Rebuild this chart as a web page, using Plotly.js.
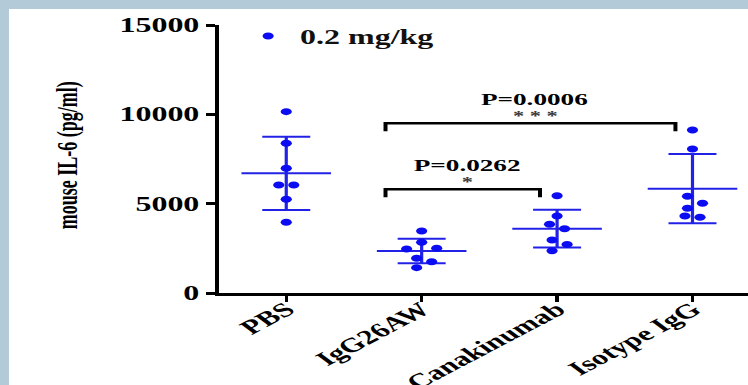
<!DOCTYPE html>
<html>
<head>
<meta charset="utf-8">
<script src="https://cdn.plot.ly/plotly-3.0.1.min.js"></script>
<style>
  html, body { margin: 0; padding: 0; background: #b3cad9; width: 748px; height: 385px; overflow: hidden; }
  #wrap { position: absolute; left: 9px; top: 9px; width: 739px; height: 376px; background: #fff; overflow: hidden; }
  #plot { width: 462px; height: 376px; transform: scaleX(1.5996); transform-origin: 0 0; }
</style>
</head>
<body>
<div id="wrap"><div id="plot"></div></div>
<script>
// ---- data ----
const categories = ['PBS', 'IgG26AW', 'Canakinumab', 'Isotype IgG'];
const pbsValues = [10150, 8380, 6980, 6050, 6050, 5250, 3960];
const igg26awValues = [3470, 2840, 2500, 2460, 1940, 1750, 1420];
const canakinumabValues = [5440, 4310, 3850, 3600, 2970, 2720, 2370];
const isotypeValues = [9120, 8060, 5410, 5020, 4740, 4310, 4240];
const groupMeans = [6700, 2350, 3600, 5840];
const groupSD = [2050, 680, 1055, 1940];
const yTickValues = [0, 5000, 10000, 15000];
const yTickLabels = ['0', '5000', '10000', '15000'];
const seriesName = '0.2 mg/kg';
const yTitle = 'mouse IL-6 (pg/ml)';
const compareFrom = [1, 1];
const compareTo = [2, 3];
const compareP = ['P=0.0262', 'P=0.0006'];
const compareStars = ['*', '* * *'];
const compareLevel = [5800, 9500];

// ---- layout constants ----
const W = 462, H = 376;
const M = { l: 131, r: 0, t: 16, b: 92 };
const xRange = [-0.5, 3.41];
const yRange = [0, 15000];
const plotW = W - M.l - M.r, plotH = H - M.t - M.b;
const pxPerCat = plotW / (xRange[1] - xRange[0]);
const pxPerY = plotH / (yRange[1] - yRange[0]);

const blueDot = '#0c0cf2';
const blueLine = '#2222e6';
const serif = 'Liberation Serif, Times New Roman, serif';

// simple beeswarm: greedy placement, then centre each touching chain
function swarm(vals) {
  const D = 7, h = 4.7;
  const order = vals.map((v, i) => i).sort((a, b) => vals[b] - vals[a]);
  const placed = [];
  order.forEach(i => {
    const yp = vals[i] * pxPerY;
    const cands = [0, 1, -1, 2, -2, 3, -3, 4, -4];
    for (const k of cands) {
      const dx = k * h;
      if (placed.every(p => !(Math.abs(p.y - yp) < D && Math.abs(p.x - dx) < D))) {
        placed.push({ i, y: yp, x: dx });
        break;
      }
    }
  });
  let chain = [];
  const flush = () => {
    if (chain.length > 1) {
      const m = chain.reduce((s, p) => s + p.x, 0) / chain.length;
      chain.forEach(p => p.x -= m);
    }
    chain = [];
  };
  placed.forEach((p, j) => {
    if (j > 0 && placed[j - 1].y - p.y >= D) flush();
    chain.push(p);
  });
  flush();
  const off = new Array(vals.length).fill(0);
  placed.forEach(p => off[p.i] = p.x / pxPerCat);
  return off;
}

const groups = [pbsValues, igg26awValues, canakinumabValues, isotypeValues];
const ptsX = [], ptsY = [];
groups.forEach((vals, g) => {
  const off = swarm(vals);
  vals.forEach((v, i) => { ptsX.push(g + off[i]); ptsY.push(v); });
});
const catIdx = categories.map((c, i) => i);

const traces = [
  {
    type: 'scatter', mode: 'markers', x: catIdx, y: groupMeans, showlegend: false, hoverinfo: 'skip',
    marker: { symbol: 'line-ew', size: 40, color: blueLine, line: { color: blueLine, width: 2 } },
    error_y: { type: 'data', array: groupSD, visible: true, color: blueLine, thickness: 2, width: 15 }
  },
  {
    type: 'scatter', mode: 'markers', x: ptsX, y: ptsY, name: seriesName, showlegend: true,
    marker: { symbol: 'circle', size: 7, color: blueDot }
  }
];

const tickDrop = 8 / pxPerY;
const shapes = [], annotations = [];
compareFrom.forEach((f, k) => {
  const x0 = f - 0.267, x1 = compareTo[k] - 0.126, y = compareLevel[k];
  shapes.push({
    type: 'path', xref: 'x', yref: 'y', layer: 'above',
    path: `M${x0},${y - tickDrop} L${x0},${y} L${x1},${y} L${x1},${y - tickDrop}`,
    line: { color: '#000', width: 2.5 }
  });
  const mid = (x0 + x1) / 2 + 0.03;
  annotations.push({
    xref: 'x', yref: 'y', x: mid, y: y, yanchor: 'bottom', yshift: -3, showarrow: false,
    text: compareStars[k], font: { family: serif, size: 14, color: '#3a3a3a', weight: 'bold' }
  });
  annotations.push({
    xref: 'x', yref: 'y', x: mid, y: y, yanchor: 'bottom', yshift: 12, showarrow: false,
    text: compareP[k], font: { family: serif, size: 17, color: '#000', weight: 'bold' }
  });
});
annotations.push({
  xref: 'paper', yref: 'paper', x: (36.3 - M.l) / plotW, y: (M.t + plotH - 146) / plotH,
  xanchor: 'center', yanchor: 'middle', textangle: -90, showarrow: false,
  text: yTitle, font: { family: serif, size: 18, color: '#000', weight: 'bold' }
});

const layout = {
  width: W, height: H, margin: M,
  paper_bgcolor: '#fff', plot_bgcolor: '#fff',
  showlegend: true,
  legend: {
    x: (142 - M.l) / plotW, y: (M.t + plotH - 27) / plotH, xanchor: 'left', yanchor: 'middle',
    bgcolor: 'rgba(0,0,0,0)', font: { family: serif, size: 20, color: '#111', weight: 'bold' }
  },
  xaxis: {
    range: xRange, tickvals: catIdx, ticktext: categories, tickangle: -40,
    ticks: 'outside', ticklen: 6, tickwidth: 2, tickcolor: '#000', ticklabelstandoff: -12,
    showline: true, linewidth: 3, linecolor: '#000', showgrid: false, zeroline: false,
    automargin: false, fixedrange: true,
    tickfont: { family: serif, size: 20, color: '#000', weight: 'bold' }
  },
  yaxis: {
    range: yRange, tickvals: yTickValues, ticktext: yTickLabels, ticks: 'outside', ticklen: 6, tickwidth: 3, tickcolor: '#000',
    showline: true, linewidth: 2, linecolor: '#000', showgrid: false, zeroline: false,
    automargin: false, fixedrange: true,
    tickfont: { family: serif, size: 20, color: '#000', weight: 'bold' }
  },
  shapes: shapes,
  annotations: annotations
};

Plotly.newPlot('plot', traces, layout, { staticPlot: true, displayModeBar: false });
</script>
</body>
</html>
